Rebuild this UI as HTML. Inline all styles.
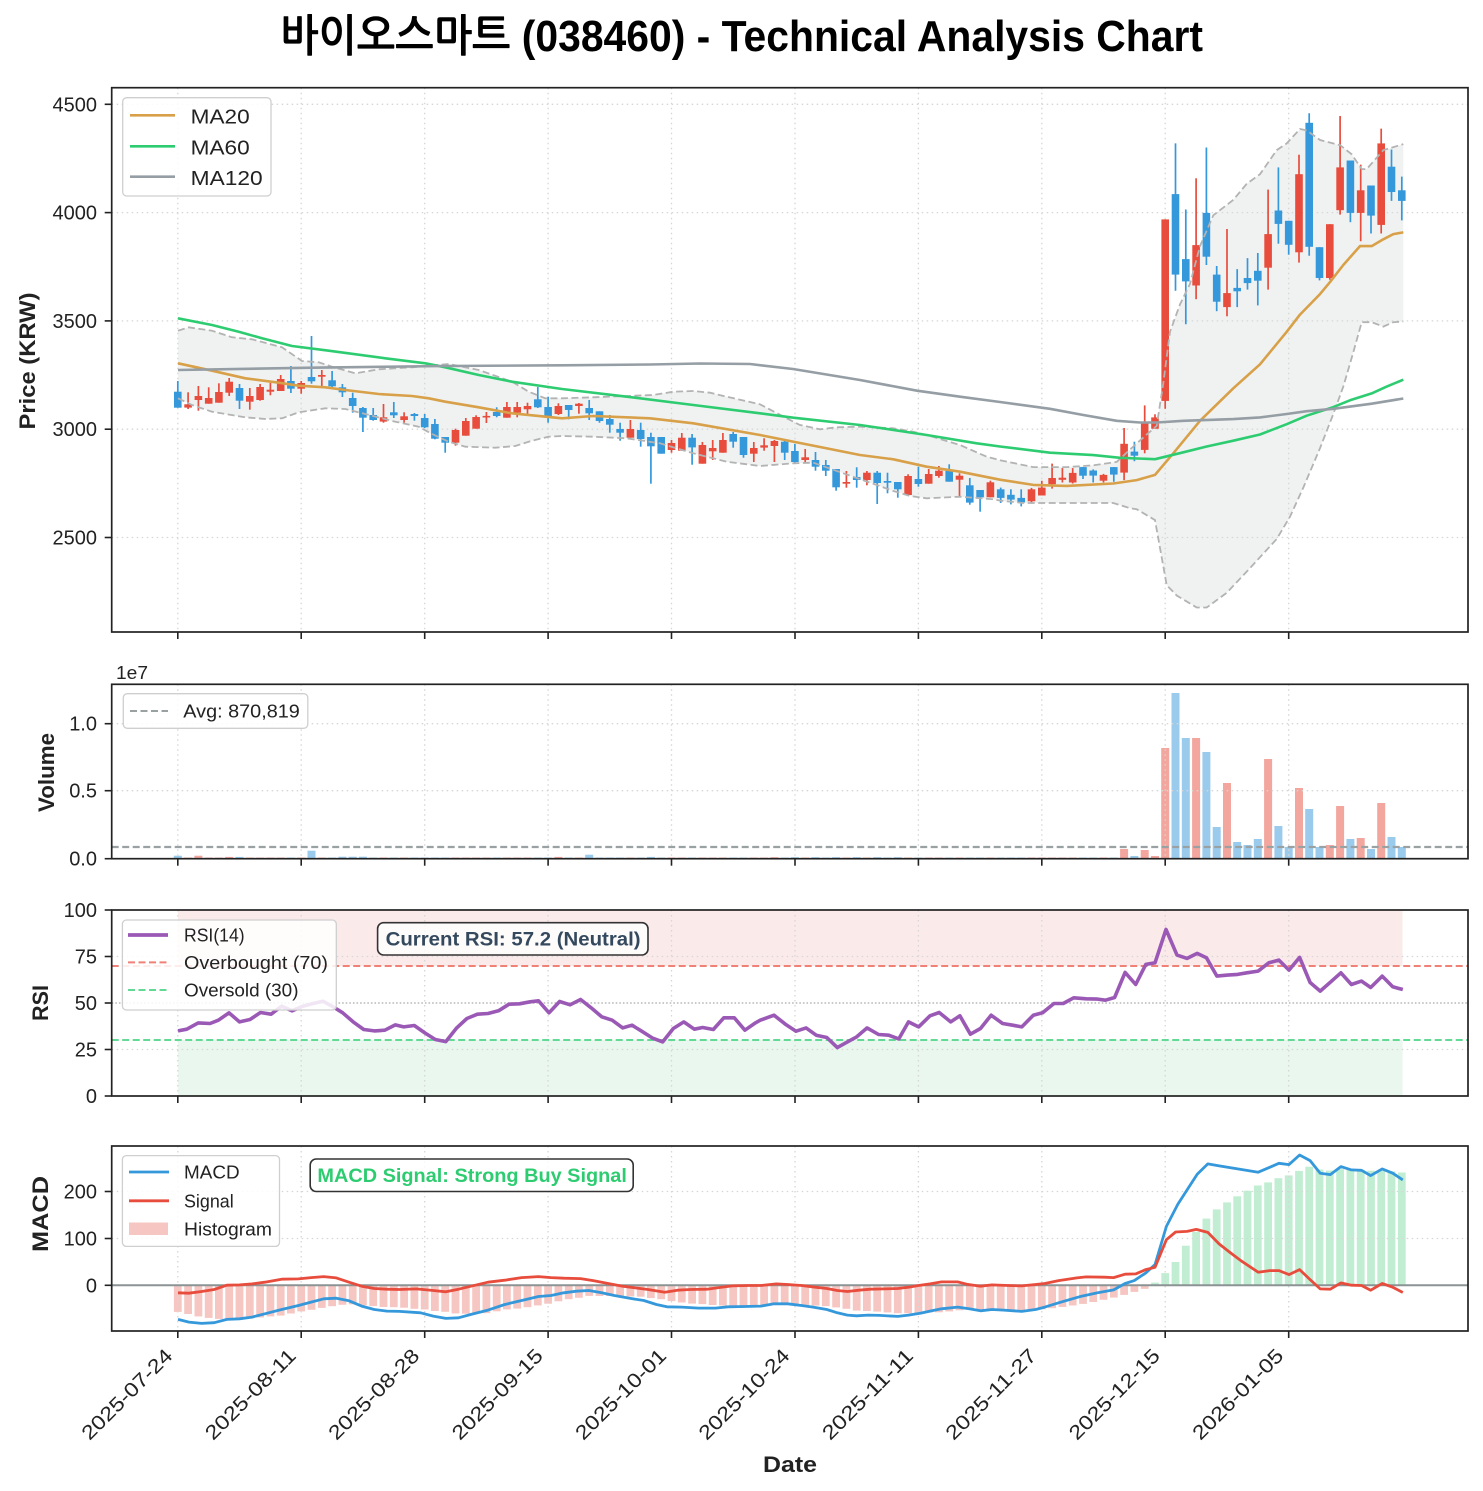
<!DOCTYPE html>
<html><head><meta charset="utf-8"><title>Technical Analysis Chart</title>
<style>
html,body{margin:0;padding:0;background:#fff;width:1483px;height:1491px;overflow:hidden}
svg{display:block}
svg text{font-family:"Liberation Sans","NanumGothic","Noto Sans CJK KR",sans-serif;fill:#222}
</style></head>
<body>
<svg xmlns="http://www.w3.org/2000/svg" width="1483" height="1491" viewBox="0 0 1483 1491">
<rect x="0" y="0" width="1483" height="1491" fill="#fff"/>
<g id="L0"></g>
<g id="GR"></g>
<g id="L1"></g>

<!-- Title -->
<text x="280" y="51" font-size="44" font-weight="bold" textLength="923" lengthAdjust="spacingAndGlyphs" style="fill:#000">바이오스마트 (038460) - Technical Analysis Chart</text>

<!-- Main legend -->
<rect x="122.7" y="97.7" width="148.3" height="98.3" rx="4" fill="#fff" fill-opacity="0.85" stroke="#cfcfcf" stroke-width="1.3"/>
<line x1="130" y1="115.3" x2="175" y2="115.3" stroke="#d8a048" stroke-width="2.6"/>
<line x1="130" y1="146.3" x2="175" y2="146.3" stroke="#2ecc71" stroke-width="2.6"/>
<line x1="130" y1="176.7" x2="175" y2="176.7" stroke="#959ea4" stroke-width="2.6"/>
<text x="190.7" y="123.5" font-size="20" textLength="59" lengthAdjust="spacingAndGlyphs">MA20</text>
<text x="190.7" y="154.5" font-size="20" textLength="59" lengthAdjust="spacingAndGlyphs">MA60</text>
<text x="190.7" y="184.8" font-size="20" textLength="72" lengthAdjust="spacingAndGlyphs">MA120</text>

<!-- Volume legend -->
<rect x="123.3" y="693.7" width="184.5" height="34.6" rx="4" fill="#fff" fill-opacity="0.85" stroke="#cfcfcf" stroke-width="1.3"/>
<line x1="130" y1="711" x2="168" y2="711" stroke="#9aa1a3" stroke-width="2" stroke-dasharray="7 3.5"/>
<text x="183.3" y="717.5" font-size="18" textLength="116.5" lengthAdjust="spacingAndGlyphs">Avg: 870,819</text>
<text x="116" y="679" font-size="18" textLength="32" lengthAdjust="spacingAndGlyphs">1e7</text>

<!-- RSI legend -->
<rect x="122.4" y="920" width="213.9" height="90" rx="4" fill="#fff" fill-opacity="0.85" stroke="#cfcfcf" stroke-width="1.3"/>
<line x1="128" y1="935" x2="168" y2="935" stroke="#9b59b6" stroke-width="3.8"/>
<line x1="128" y1="962.4" x2="168" y2="962.4" stroke="#ef8176" stroke-width="2" stroke-dasharray="7 3.5"/>
<line x1="128" y1="990" x2="168" y2="990" stroke="#62d994" stroke-width="2" stroke-dasharray="7 3.5"/>
<text x="184" y="941.5" font-size="18" textLength="60.6" lengthAdjust="spacingAndGlyphs">RSI(14)</text>
<text x="184" y="969" font-size="18" textLength="144" lengthAdjust="spacingAndGlyphs">Overbought (70)</text>
<text x="184" y="996.5" font-size="18" textLength="114.5" lengthAdjust="spacingAndGlyphs">Oversold (30)</text>
<!-- RSI annotation -->
<rect x="377.6" y="922.7" width="270.4" height="32.3" rx="6" fill="#fff" fill-opacity="0.8" stroke="#333" stroke-width="1.6"/>
<text x="385.6" y="945.5" font-size="19" font-weight="bold" textLength="255" lengthAdjust="spacingAndGlyphs" style="fill:#34495e">Current RSI: 57.2 (Neutral)</text>

<!-- MACD legend -->
<rect x="122.4" y="1155.6" width="157.1" height="90.8" rx="4" fill="#fff" fill-opacity="0.85" stroke="#cfcfcf" stroke-width="1.3"/>
<line x1="129" y1="1172" x2="169" y2="1172" stroke="#3498db" stroke-width="2.8"/>
<line x1="129" y1="1200.8" x2="169" y2="1200.8" stroke="#e74c3c" stroke-width="2.8"/>
<rect x="129" y="1222.5" width="39" height="12.5" fill="#f6c7c2"/>
<text x="184" y="1178.5" font-size="18" textLength="55.6" lengthAdjust="spacingAndGlyphs">MACD</text>
<text x="184" y="1207.3" font-size="18" textLength="49.7" lengthAdjust="spacingAndGlyphs">Signal</text>
<text x="184" y="1235.5" font-size="18" textLength="88" lengthAdjust="spacingAndGlyphs">Histogram</text>
<!-- MACD annotation -->
<rect x="310.2" y="1159" width="323" height="32.5" rx="6" fill="#fff" fill-opacity="0.8" stroke="#333" stroke-width="1.6"/>
<text x="317.4" y="1182" font-size="19" font-weight="bold" textLength="309.5" lengthAdjust="spacingAndGlyphs" style="fill:#2ecc71">MACD Signal: Strong Buy Signal</text>

<!-- Y tick labels -->
<g font-size="20" text-anchor="end">
<text x="97" y="111.3">4500</text>
<text x="97" y="219.6">4000</text>
<text x="97" y="327.9">3500</text>
<text x="97" y="436.2">3000</text>
<text x="97" y="544.5">2500</text>
<text x="97" y="730.7">1.0</text>
<text x="97" y="797.7">0.5</text>
<text x="97" y="865.7">0.0</text>
<text x="97" y="917">100</text>
<text x="97" y="963.5">75</text>
<text x="97" y="1010">50</text>
<text x="97" y="1056.5">25</text>
<text x="97" y="1103">0</text>
<text x="97" y="1198.5">200</text>
<text x="97" y="1245.5">100</text>
<text x="97" y="1292.3">0</text>
</g>

<!-- X tick labels -->
<g font-size="20" text-anchor="end">
<text transform="translate(173.8,1357) rotate(-45)" textLength="119" lengthAdjust="spacingAndGlyphs">2025-07-24</text>
<text transform="translate(297.2,1357) rotate(-45)" textLength="119" lengthAdjust="spacingAndGlyphs">2025-08-11</text>
<text transform="translate(420.7,1357) rotate(-45)" textLength="119" lengthAdjust="spacingAndGlyphs">2025-08-28</text>
<text transform="translate(544.1,1357) rotate(-45)" textLength="119" lengthAdjust="spacingAndGlyphs">2025-09-15</text>
<text transform="translate(667.5,1357) rotate(-45)" textLength="119" lengthAdjust="spacingAndGlyphs">2025-10-01</text>
<text transform="translate(790.9,1357) rotate(-45)" textLength="119" lengthAdjust="spacingAndGlyphs">2025-10-24</text>
<text transform="translate(914.4,1357) rotate(-45)" textLength="119" lengthAdjust="spacingAndGlyphs">2025-11-11</text>
<text transform="translate(1037.8,1357) rotate(-45)" textLength="119" lengthAdjust="spacingAndGlyphs">2025-11-27</text>
<text transform="translate(1161.2,1357) rotate(-45)" textLength="119" lengthAdjust="spacingAndGlyphs">2025-12-15</text>
<text transform="translate(1284.7,1357) rotate(-45)" textLength="119" lengthAdjust="spacingAndGlyphs">2026-01-05</text>
</g>

<!-- Axis labels -->
<g font-weight="bold" font-size="22" text-anchor="middle" style="fill:#000">
<text transform="translate(35,361) rotate(-90)" textLength="137" lengthAdjust="spacingAndGlyphs">Price (KRW)</text>
<text transform="translate(54,772.5) rotate(-90)" textLength="79" lengthAdjust="spacingAndGlyphs">Volume</text>
<text transform="translate(48,1003) rotate(-90)" textLength="36" lengthAdjust="spacingAndGlyphs">RSI</text>
<text transform="translate(48,1214) rotate(-90)" textLength="76" lengthAdjust="spacingAndGlyphs">MACD</text>
<text x="790" y="1472" textLength="54" lengthAdjust="spacingAndGlyphs">Date</text>
</g>

<g id="FR"></g>
</svg>

<script>
(function(){
const X=i=>177.8+10.2858*i;
const z1=(a,b)=>[112+a/3,310+b/3], z2=(a,b)=>[560+a/3,370+b/3], z3=(a,b)=>[1000+a/3,(b+268.6)/2.9196];
const z7=(a,b)=>[178+(a-184)/2.3745,910+(b-30)/2.995], z8=(a,b)=>[796+(a-78)/2.1785,910+(b-30)/2.995];
const z9=(a,b)=>[178+(a-184)/2.3745,1146+(b-18)/3.01], z10=(a,b)=>[796+(a-78)/2.1785,1146+(b-18)/3.01];
const M=(f,arr)=>arr.map(p=>f(p[0],p[1]));
const P=pts=>'M'+pts.map(p=>p[0].toFixed(1)+','+p[1].toFixed(1)).join('L');
function interp(pts,x){if(x<=pts[0][0])return pts[0][1];for(let k=1;k<pts.length;k++){if(x<=pts[k][0]){const a=pts[k-1],b=pts[k];return a[1]+(b[1]-a[1])*(x-a[0])/(b[0]-a[0]);}}return pts[pts.length-1][1];}
const L=111.7,R=1468;
let s0='',sg='',s1='',sf='';

/* ---------- candles ---------- */
const c1=[['b',245,293,213,293],['r',283,293,247,297],['r',258,270,228,302],['r',264,281,232,281],['r',246,278,220,278],['r',215,248,204,258],['b',234,272,222,297],['r',258,275,234,299],['r',231,270,222,272],['r',239,245,219,256],['r',207,243,195,243],['b',213,236,168,249],['r',219,236,213,251],['b',201,214,78,221],['r',195,200,180,229],['b',211,229,183,231],['b',232,247,222,261],['b',264,288,248,308],['b',294,323,291,366],['b',315,330,294,332],['r',322,335,282,338],['b',307,316,276,324],['r',319,330,307,338],['b',312,318,309,332],['b',324,352,312,354],['b',342,386,327,388],['b',381,398,381,428],['r',360,398,356,407],['r',333,377,324,377],['r',321,356,316,356],['r',318,322,306,339],['b',306,318,292,322],['r',291,323,276,323],['r',291,308,276,322],['r',288,298,278,312],['b',268,292,231,294],['b',291,321,260,338],['r',288,312,280,315]];
const c2=[['b',105,120,105,148],['r',101,108,99,131],['b',114,130,90,150],['b',124,153,124,158],['b',147,164,135,188],['b',177,188,158,212],['r',177,203,150,203],['b',180,207,158,230],['b',201,229,188,341],['b',201,251,201,251],['r',219,240,210,248],['r',203,242,189,242],['b',203,232,192,284],['r',225,281,216,281],['r',234,244,210,270],['r',210,248,189,248],['b',192,215,186,233],['b',201,255,201,263],['r',234,251,216,276],['r',226,233,205,242],['r',213,228,210,276],['b',215,248,213,270],['b',243,276,222,282],['r',262,270,237,280],['b',270,290,246,302],['b',285,302,270,318],['b',297,352,297,362],['r',336,341,303,353],['b',321,330,292,353],['r',308,330,303,346],['b',308,339,303,402],['b',333,338,308,370],['b',336,358,336,383],['r',318,375,313,375],['b',327,342,290,350],['r',312,341,297,341],['r',302,318,288,323],['b',303,335,283,335],['r',317,329,310,378],['b',346,398,324,404],['b',360,382,360,425],['r',337,382,332,382]];
const c3=[['b',1160,1185,1155,1200],['b',1176,1190,1160,1204],['b',1185,1198,1160,1210],['r',1160,1195,1156,1198],['r',1155,1178,1135,1178],['r',1127,1145,1085,1158],['r',1126,1132,1098,1140],['r',1112,1140,1098,1143],['b',1095,1120,1095,1130],['b',1105,1120,1102,1140],['r',1118,1135,1115,1140],['b',1095,1117,1095,1138],['r',1027,1111,981,1133],['b',1050,1062,1021,1078],['r',967,1045,915,1055],['r',950,983,941,983],['r',372,902,372,925],['b',298,533,150,580],['b',488,553,343,678],['r',447,565,252,605],['b',353,481,162,505],['b',533,612,508,640],['r',587,628,400,655],['b',572,582,517,628],['b',543,558,485,577],['b',522,551,470,623],['r',415,513,285,577],['b',346,385,220,443],['b',376,446,376,475],['r',240,468,183,498],['b',90,452,62,478],['b',453,543,453,550],['r',386,543,386,548],['r',220,345,70,358],['b',200,353,200,380],['r',287,353,212,436],['b',273,361,273,413],['r',150,388,107,413],['b',218,292,168,318],['b',287,318,247,375]];
const cs=[];
c1.forEach(c=>cs.push([c[0],310+c[1]/3,310+c[2]/3,310+c[3]/3,310+c[4]/3]));
c2.forEach(c=>cs.push([c[0],370+c[1]/3,370+c[2]/3,370+c[3]/3,370+c[4]/3]));
const f3=v=>(v+268.6)/2.9196;
c3.forEach(c=>cs.push([c[0],f3(c[1]),f3(c[2]),f3(c[3]),f3(c[4])]));

/* ---------- main lines ---------- */
const ma20=[].concat(M(z1,[[198,160],[300,182],[400,205],[500,218],[560,227],[640,232],[700,240],[800,252],[900,258],[950,265],[1000,275],[1100,292],[1200,310],[1350,325]]),
 M(z2,[[100,138],[270,145],[400,160],[600,195],[750,225],[900,255],[1000,268],[1100,290],[1200,305]]),
 M(z3,[[0,1132],[100,1147],[200,1150],[340,1143],[410,1133],[465,1118],[520,1055],[600,960],[700,865],[780,795],[860,700],[900,650],[960,590],[990,555],[1030,505],[1080,450],[1115,450],[1150,430],[1180,415],[1210,410]]));
const ma60=[].concat(M(z1,[[198,25],[300,45],[380,65],[450,85],[540,108],[650,122],[820,145],[940,160],[1000,172],[1100,195],[1200,215],[1350,237]]),
 M(z2,[[200,80],[400,105],[600,130],[700,143],[900,165],[1100,195],[1250,220]]),
 M(z3,[[0,1035],[150,1053],[280,1060],[360,1068],[465,1072],[550,1052],[620,1035],[700,1018],[780,1000],[860,970],[920,945],[1000,920],[1050,900],[1115,880],[1160,860],[1210,840]]));
const ma120=[[178,370],[312,367.7],[445,366],[562,365.3],[650,364.5],[700,363.5],[750,364],[793,369],[860,380],[917,390.7],[960,396.7]].concat(
 M(z3,[[0,905],[150,925],[250,943],[350,960],[420,965],[470,965],[550,960],[700,955],[780,950],[860,940],[920,932],[1000,925],[1115,910],[1210,895]]));
const bbU=[].concat(M(z1,[[198,62],[230,52],[300,62],[360,82],[420,88],[510,112],[570,153],[620,157],[660,170],[730,190],[800,178],[900,172],[1010,162],[1100,180],[1200,215],[1250,245],[1300,265],[1350,265]]),
 M(z2,[[100,82],[200,78],[280,75],[340,65],[400,63],[450,68],[500,80],[600,103],[680,145],[720,165],[780,178],[830,172],[900,170],[1000,175],[1060,185],[1100,195],[1200,225],[1280,260]]),
 M(z3,[[0,1075],[100,1095],[200,1095],[280,1090],[350,1080],[400,1035],[440,1000],[470,975],[490,850],[510,700],[540,620],[570,560],[600,450],[640,360],[700,315],[740,268],[780,240],[830,170],[860,150],[900,108],[920,112],[960,140],[1020,155],[1055,182],[1085,225],[1100,225],[1150,170],[1210,152]]));
const bbL=[].concat(M(z1,[[198,265],[240,285],[300,305],[400,322],[460,327],[510,325],[560,307],[640,295],[700,297],[760,312],[850,335],[920,350],[960,372],[1010,395],[1060,410],[1150,413],[1210,408],[1260,392],[1310,380],[1350,378]]),
 M(z2,[[100,200],[200,205],[300,220],[400,250],[500,275],[600,288],[700,280],[760,278],[850,310],[950,345],[1000,363],[1050,378],[1100,385],[1200,380],[1300,388]]),
 M(z3,[[0,1193],[70,1200],[200,1200],[340,1200],[390,1215],[410,1218],[465,1250],[500,1440],[530,1470],[590,1505],[620,1505],[680,1462],[750,1390],[830,1305],[870,1240],[910,1155],[960,1040],[1000,940],[1030,860],[1060,760],[1085,672],[1115,672],[1150,685],[1180,672],[1210,670]]));

/* BB fill */
s0+=`<path d="${P(bbU.concat(bbL.slice().reverse()))}Z" fill="#f0f2f2"/>`;

/* ---------- volume ---------- */
const vh=new Array(120).fill(1.1);
const vsm={0:3,2:3,5:1.8,6:1.8,13:8,16:2,17:2,18:2,37:1.8,40:4,46:1.8,58:1.5,60:1.5,62:1.5,64:1.5,66:1.5,68:1.5,70:1.5};
for(const k in vsm)vh[k]=vsm[k];
const vtop={92:849,93:856,94:850,95:856,96:748,97:693,98:738,99:738,100:752,101:827,102:783,103:842,104:845,105:839,106:759,107:826,108:847,109:788,110:809,111:847,112:845,113:806,114:839,115:838,116:849,117:803,118:837,119:847};
for(const k in vtop)vh[k]=858.7-vtop[k];
const V0=858.7;
cs.forEach((c,i)=>{const x=X(i);s0+=`<rect x="${(x-4).toFixed(1)}" y="${(V0-vh[i]).toFixed(1)}" width="8" height="${vh[i].toFixed(1)}" fill="${c[0]=='r'?'#f2a69e':'#9bcbec'}"/>`;});

/* ---------- RSI fills ---------- */
s0+=`<rect x="178" y="910" width="1224.5" height="56" fill="#fbeaea"/>`;
s0+=`<rect x="178" y="1040" width="1224.5" height="56" fill="#e9f7ee"/>`;

/* ---------- MACD hist ---------- */
const macd=[].concat(M(z9,[[184,540],[210,548],[240,552],[270,550],[300,540],[330,538],[360,533],[390,523],[430,510],[470,498],[500,488],[530,478],[560,476],[590,484],[620,500],[650,510],[680,515],[710,516],[760,520],[790,530],[820,537],[850,535],[880,525],[920,512],[960,495],[1000,483],[1040,471],[1070,468],[1100,460],[1130,455],[1160,453],[1190,460],[1220,468],[1260,477],[1290,483],[1320,495],[1345,502],[1380,503],[1420,506],[1460,506],[1490,502],[1530,501],[1568,500]]),
 M(z10,[[30,493],[60,493],[90,498],[115,503],[145,510],[168,520],[190,527],[210,529],[235,527],[260,528],[300,531],[323,527],[350,521],[370,515],[395,508],[430,503],[455,508],[480,514],[505,510],[530,512],[570,516],[600,510],[620,503],[650,490],[680,478],[700,470],[735,460],[770,451],[795,432],[815,423],[840,400],[860,375],[885,260],[910,193],[930,150],[952,103],[975,72],[1000,78],[1040,87],[1085,97],[1110,82],[1130,70],[1152,74],[1175,45],[1198,62],[1220,100],[1242,104],[1265,80],[1288,90],[1310,91],[1330,107],[1355,87],[1378,100],[1400,120]]));
const sig=[].concat(M(z9,[[184,460],[210,461],[240,456],[270,450],[300,437],[330,436],[360,433],[390,428],[430,419],[470,418],[500,414],[530,411],[560,415],[590,428],[620,440],[650,447],[680,449],[710,450],[750,448],[790,453],[820,457],[850,449],[880,440],[920,428],[960,422],[1000,414],[1040,411],[1070,414],[1100,416],[1140,417],[1170,423],[1210,433],[1240,440],[1270,445],[1300,450],[1340,458],[1370,452],[1400,450],[1440,449],[1470,444],[1500,439],[1540,438],[1568,438]]),
 M(z10,[[35,433],[60,435],[90,438],[120,443],[145,447],[168,453],[190,456],[215,452],[240,449],[270,448],[300,447],[323,443],[345,438],[370,433],[395,427],[430,427],[450,434],[480,440],[505,436],[540,438],[570,439],[600,435],[620,432],[650,423],[690,415],[710,412],[750,413],[770,414],[795,404],[818,403],[840,390],[860,383],[885,300],[905,277],[930,275],[950,269],[975,278],[1000,313],[1025,340],[1050,366],[1085,398],[1110,393],[1130,393],[1152,405],[1175,390],[1198,420],[1220,448],[1242,449],[1265,430],[1288,437],[1310,438],[1330,452],[1355,432],[1378,443],[1400,459]]));
const Z0=1285.3;
for(let i=0;i<120;i++){const x=X(i);const my=interp(macd,x),sy=interp(sig,x);const d=my-sy;const y=d<0?Z0+d:Z0;const h=Math.abs(d);
 s0+=`<rect x="${(x-3.9).toFixed(1)}" y="${y.toFixed(1)}" width="7.8" height="${h.toFixed(1)}" fill="${d<0?'#c1eed3':'#f6c7c2'}"/>`;}

/* ---------- grid ---------- */
const xt=[];for(let k=0;k<10;k++)xt.push(177.8+123.43*k);
const G='stroke="#d6d6d6" stroke-width="1.3" stroke-dasharray="1.5 3.5"';
const panels=[[87.7,632,[104.3,212.6,320.9,429.2,537.5]],[684.3,858.7,[723.7,790.7]],[910,1096,[956.5,1049.5]],[1146,1331,[1191.5,1238.5]]];
panels.forEach(p=>{xt.forEach(x=>{sg+=`<line x1="${x.toFixed(1)}" y1="${p[0]}" x2="${x.toFixed(1)}" y2="${p[1]}" ${G}/>`;});
 p[2].forEach(y=>{sg+=`<line x1="${L}" y1="${y}" x2="${R}" y2="${y}" ${G}/>`;});});

/* ---------- candles & lines ---------- */
cs.forEach((c,i)=>{const x=X(i),col=c[0]=='r'?'#e74c3c':'#3498db';let t=c[1],b=c[2];if(b-t<1.6){const m=(t+b)/2;t=m-0.8;b=m+0.8;}
 s1+=`<line x1="${x.toFixed(1)}" y1="${c[3].toFixed(1)}" x2="${x.toFixed(1)}" y2="${c[4].toFixed(1)}" stroke="${col}" stroke-width="1.7"/>`;
 s1+=`<rect x="${(x-3.8).toFixed(1)}" y="${t.toFixed(1)}" width="7.6" height="${(b-t).toFixed(1)}" fill="${col}"/>`;});
s1+=`<path d="${P(bbU)}" fill="none" stroke="#b3b3b3" stroke-width="1.8" stroke-dasharray="7 3.5"/>`;
s1+=`<path d="${P(bbL)}" fill="none" stroke="#b3b3b3" stroke-width="1.8" stroke-dasharray="7 3.5"/>`;
s1+=`<path d="${P(ma20)}" fill="none" stroke="#d8a048" stroke-width="2.6" stroke-linejoin="round"/>`;
s1+=`<path d="${P(ma60)}" fill="none" stroke="#2ecc71" stroke-width="2.6" stroke-linejoin="round"/>`;
s1+=`<path d="${P(ma120)}" fill="none" stroke="#959ea4" stroke-width="2.6" stroke-linejoin="round"/>`;

/* volume avg */
s1+=`<line x1="${L}" y1="847" x2="${R}" y2="847" stroke="#9aa1a3" stroke-width="2.2" stroke-dasharray="7 3.5"/>`;

/* RSI */
s1+=`<line x1="${L}" y1="966" x2="${R}" y2="966" stroke="#ef8176" stroke-width="2" stroke-dasharray="7 3.5"/>`;
s1+=`<line x1="${L}" y1="1040" x2="${R}" y2="1040" stroke="#62d994" stroke-width="2" stroke-dasharray="7 3.5"/>`;
s1+=`<line x1="${L}" y1="1003" x2="${R}" y2="1003" stroke="#b8b8b8" stroke-width="1.6" stroke-dasharray="1.6 2"/>`;
const rsi=[].concat(M(z7,[[184,392],[205,387],[232,368],[260,370],[280,360],[305,338],[330,365],[355,358],[380,337],[405,342],[430,318],[455,332],[480,318],[505,310],[528,303],[550,318],[575,338],[600,365],[625,388],[650,392],[675,390],[700,374],[720,380],[745,376],[770,398],[795,418],[820,424],[845,384],[870,355],[895,342],[920,340],[945,332],[970,312],[995,311],[1020,305],[1040,302],[1065,338],[1090,304],[1115,314],[1140,298],[1165,323],[1190,350],[1215,360],[1240,383],[1262,375],[1285,393],[1310,413],[1335,425],[1360,385],[1385,365],[1410,387],[1430,382],[1455,388],[1480,353],[1505,353],[1530,390],[1555,368]]),
 M(z8,[[0,360],[30,345],[55,372],[78,393],[100,383],[122,405],[145,412],[168,442],[190,425],[210,410],[233,383],[258,403],[280,405],[302,416],[323,365],[345,380],[370,347],[390,337],[415,365],[435,347],[458,402],[480,385],[503,345],[528,370],[550,375],[570,380],[595,345],[615,338],[640,310],[660,310],[683,293],[710,296],[735,297],[752,300],[772,292],[795,217],[818,253],[840,193],[860,188],[884,88],[908,165],[930,175],[952,160],[972,173],[995,228],[1018,225],[1040,223],[1060,218],[1085,213],[1108,188],[1130,180],[1152,210],[1175,172],[1198,247],[1220,273],[1243,245],[1265,218],[1288,253],[1310,243],[1330,262],[1355,228],[1378,260],[1400,268]]));
s1+=`<path d="${P(rsi)}" fill="none" stroke="#9b59b6" stroke-width="3.6" stroke-linejoin="round"/>`;

/* MACD */
s1+=`<line x1="${L}" y1="${Z0}" x2="${R}" y2="${Z0}" stroke="#8c9394" stroke-width="2"/>`;
s1+=`<path d="${P(macd)}" fill="none" stroke="#3498db" stroke-width="2.8" stroke-linejoin="round"/>`;
s1+=`<path d="${P(sig)}" fill="none" stroke="#e74c3c" stroke-width="2.8" stroke-linejoin="round"/>`;

/* ---------- frames & ticks ---------- */
const yt=[[104.3,212.6,320.9,429.2,537.5],[723.7,790.7,858.7],[910,956.5,1003,1049.5,1096],[1191.5,1238.5,1285.3]];
panels.forEach((p,j)=>{
 sf+=`<rect x="${L}" y="${p[0]}" width="${(R-L).toFixed(1)}" height="${(p[1]-p[0]).toFixed(1)}" fill="none" stroke="#222" stroke-width="1.7"/>`;
 yt[j].forEach(y=>{sf+=`<line x1="${L-7}" y1="${y}" x2="${L}" y2="${y}" stroke="#222" stroke-width="1.6"/>`;});
 xt.forEach(x=>{sf+=`<line x1="${x.toFixed(1)}" y1="${p[1]}" x2="${x.toFixed(1)}" y2="${p[1]+7}" stroke="#222" stroke-width="1.6"/>`;});
});

document.getElementById('L0').innerHTML=s0;
document.getElementById('GR').innerHTML=sg;
document.getElementById('L1').innerHTML=s1;
document.getElementById('FR').innerHTML=sf;
})();
</script>
</body></html>
